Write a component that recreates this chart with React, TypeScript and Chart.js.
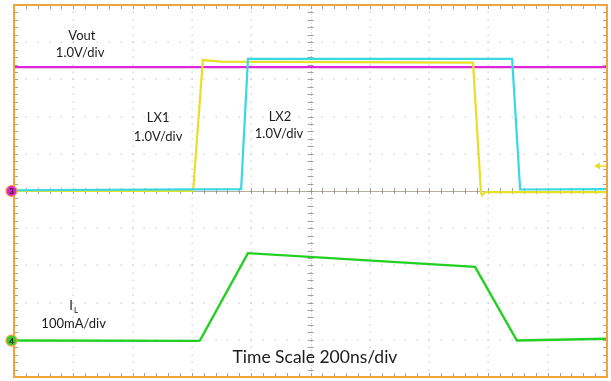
import React, { useEffect, useRef } from "react";
import { Chart, registerables } from "chart.js";

Chart.register(...registerables);

// time axis in ns (200 ns/div, 10 div), vertical axis in divisions (±5 div)
const timeNs = { min: 0, max: 2000 };
const vertDiv = { min: -5, max: 5 };

const voutX = [0, 2000];
const voutY = [3.33, 3.33];

const lx1X = [0, 604, 637, 700, 1548, 1575, 1578, 1590, 2000];
const lx1Y = [0.0, 0.0, 3.52, 3.48, 3.45, -0.05, -0.11, -0.03, -0.03];

const lx2X = [0, 766, 789, 1680, 1707, 2000];
const lx2Y = [0.02, 0.05, 3.55, 3.55, 0.04, 0.05];

const ilX = [0, 620, 627, 789, 1555, 1696, 2000];
const ilY = [-4.02, -4.03, -4.02, -1.67, -2.04, -4.02, -3.97];

const labelText = ["Vout", "1.0V/div", "LX1", "1.0V/div", "LX2", "1.0V/div", "100mA/div"];
const labelX = [229, 223, 486, 486, 897, 894, 201];
const labelY = [4.17, 3.71, 1.96, 1.45, 1.99, 1.53, -3.58];

const ilLabel = { main: "I", sub: "L", x: 199, y: -3.09 };
const timeLabel = { text: "Time Scale 200ns/div", x: 1015, y: -4.46 };
const trigLevel = 0.67;
const ch3Level = 0;
const ch4Level = -4.02;

const toPts = (xs: number[], ys: number[]) => xs.map((x, i) => ({ x, y: ys[i] }));

const FONT = "Lato, 'Open Sans', sans-serif";

const graticule = {
  id: "graticule",
  beforeDatasetsDraw(chart: any) {
    const { ctx, chartArea: a, scales } = chart;
    const xs = scales.x;
    const ys = scales.y;
    ctx.save();
    // dots
    ctx.fillStyle = "#cacaca";
    for (let i = 1; i < 10; i++) {
      const gx = xs.getPixelForValue(i * 200);
      for (let j = 0; j <= 50; j++) {
        const gy = ys.getPixelForValue(-5 + j * 0.2);
        ctx.fillRect(Math.round(gx) - 0.5, Math.round(gy) - 0.5, 1.3, 1.3);
      }
    }
    for (let j = 1; j < 10; j++) {
      const gy = ys.getPixelForValue(-5 + j);
      for (let i = 0; i <= 50; i++) {
        const gx = xs.getPixelForValue(i * 40);
        ctx.fillRect(Math.round(gx) - 0.5, Math.round(gy) - 0.5, 1.3, 1.3);
      }
    }
    // center cross
    const cx = xs.getPixelForValue(1000);
    const cy = ys.getPixelForValue(0);
    ctx.strokeStyle = "rgba(150,140,115,0.7)";
    ctx.lineWidth = 1;
    ctx.beginPath();
    ctx.moveTo(a.left, Math.round(cy) + 0.5);
    ctx.lineTo(a.right, Math.round(cy) + 0.5);
    ctx.stroke();
    ctx.strokeStyle = "rgba(140,140,140,0.8)";
    ctx.beginPath();
    for (let i = 0; i <= 50; i++) {
      const gx = Math.round(xs.getPixelForValue(i * 40)) + 0.5;
      ctx.moveTo(gx, cy - 3);
      ctx.lineTo(gx, cy + 3);
      ctx.moveTo(gx, a.top);
      ctx.lineTo(gx, a.top + 4);
      ctx.moveTo(gx, a.bottom);
      ctx.lineTo(gx, a.bottom - 4);
    }
    for (let j = 0; j <= 50; j++) {
      const gy = Math.round(ys.getPixelForValue(-5 + j * 0.2)) + 0.5;
      ctx.moveTo(cx - 3, gy);
      ctx.lineTo(cx + 3, gy);
      ctx.moveTo(a.left, gy);
      ctx.lineTo(a.left + 4, gy);
      ctx.moveTo(a.right, gy);
      ctx.lineTo(a.right - 4, gy);
    }
    ctx.stroke();
    ctx.strokeStyle = "rgba(150,140,115,0.45)";
    ctx.setLineDash([1, 2]);
    ctx.beginPath();
    ctx.moveTo(Math.round(cx) + 0.5, a.top);
    ctx.lineTo(Math.round(cx) + 0.5, a.bottom);
    ctx.stroke();
    ctx.setLineDash([]);
    ctx.restore();
  },
  afterDatasetsDraw(chart: any) {
    const { ctx, chartArea: a, scales } = chart;
    const xs = scales.x;
    const ys = scales.y;
    ctx.save();
    // frame
    ctx.strokeStyle = "#f2a43c";
    ctx.lineWidth = 2;
    ctx.strokeRect(a.left, a.top, a.right - a.left, a.bottom - a.top);

    // labels
    ctx.fillStyle = "#1c1c1c";
    ctx.textAlign = "center";
    ctx.textBaseline = "middle";
    ctx.font = `13px ${FONT}`;
    labelText.forEach((t, i) => {
      ctx.fillText(t, xs.getPixelForValue(labelX[i]), ys.getPixelForValue(labelY[i]));
    });
    const ix = xs.getPixelForValue(ilLabel.x);
    const iy = ys.getPixelForValue(ilLabel.y);
    ctx.fillText(ilLabel.main, ix - 2, iy);
    ctx.font = `8px ${FONT}`;
    ctx.fillText(ilLabel.sub, ix + 3, iy + 4);
    ctx.font = `17.5px ${FONT}`;
    ctx.fillText(timeLabel.text, xs.getPixelForValue(timeLabel.x), ys.getPixelForValue(timeLabel.y));

    // channel markers
    const marker = (y: number, fill: string, txt: string) => {
      const px = a.left - 2.5;
      const py = ys.getPixelForValue(y);
      ctx.beginPath();
      ctx.arc(px, py, 5.5, 0, Math.PI * 2);
      ctx.fillStyle = fill;
      ctx.fill();
      ctx.lineWidth = 1.2;
      ctx.strokeStyle = "#f2a43c";
      ctx.stroke();
      ctx.fillStyle = "#202020";
      ctx.font = `bold 8px ${FONT}`;
      ctx.fillText(txt, px, py + 0.5);
    };
    marker(ch3Level, "#e020d8", "3");
    marker(ch4Level, "#30d030", "4");

    // trigger level arrow
    const ty = ys.getPixelForValue(trigLevel);
    ctx.fillStyle = "#e8e020";
    ctx.strokeStyle = "#e8e020";
    ctx.lineWidth = 1.5;
    ctx.beginPath();
    ctx.moveTo(a.right - 13, ty);
    ctx.lineTo(a.right - 7, ty - 3.5);
    ctx.lineTo(a.right - 7, ty + 3.5);
    ctx.closePath();
    ctx.fill();
    ctx.beginPath();
    ctx.moveTo(a.right - 8, ty);
    ctx.lineTo(a.right - 1, ty);
    ctx.stroke();
    ctx.restore();
  },
};

export default function App() {
  const ref = useRef<HTMLCanvasElement>(null);
  useEffect(() => {
    document.body.style.margin = "0";
    const canvas = ref.current!;
    const lineDs = (label: string, pts: any[], color: string, w: number) => ({
      label,
      data: pts,
      borderColor: color,
      backgroundColor: color,
      borderWidth: w,
      pointRadius: 0,
      tension: 0,
      fill: false,
    });
    const chart = new Chart(canvas, {
      type: "line",
      data: {
        datasets: [
          lineDs("IL", toPts(ilX, ilY), "#22d022", 2.4),
          lineDs("LX2", toPts(lx2X, lx2Y), "#38d8e4", 2.2),
          lineDs("LX1", toPts(lx1X, lx1Y), "#e6e028", 2.2),
          lineDs("Vout", toPts(voutX, voutY), "#e024dc", 2.4),
        ],
      },
      options: {
        animation: false,
        responsive: false,
        maintainAspectRatio: false,
        parsing: false as any,
        layout: { padding: { left: 14, right: 4, top: 5, bottom: 4 } },
        plugins: { legend: { display: false }, tooltip: { enabled: false } },
        scales: {
          x: { type: "linear", min: timeNs.min, max: timeNs.max, display: false },
          y: { type: "linear", min: vertDiv.min, max: vertDiv.max, display: false },
        },
      },
      plugins: [graticule],
    });
    return () => chart.destroy();
  }, []);
  return (
    <div style={{ width: 611, height: 381, background: "#fff" }}>
      <canvas ref={ref} width={611} height={381} style={{ width: 611, height: 381, display: "block" }} />
    </div>
  );
}
